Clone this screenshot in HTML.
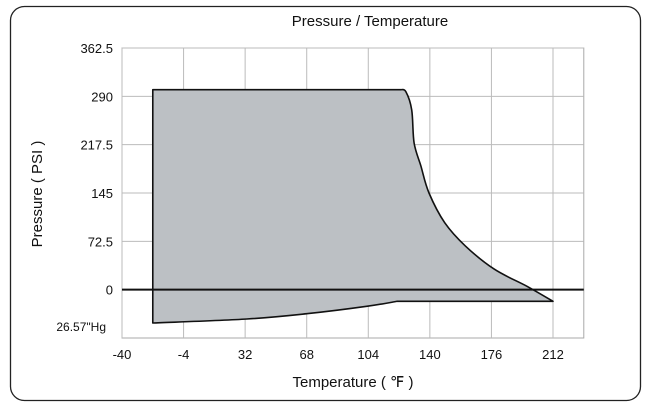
<!DOCTYPE html>
<html><head><meta charset="utf-8"><style>
body{margin:0;background:#fff;width:646px;height:406px;overflow:hidden}
text{font-family:"Liberation Sans",sans-serif;fill:#111}
</style></head><body>
<svg id="chart" width="646" height="406" viewBox="0 0 646 406">
<rect x="10.5" y="6.5" width="630" height="394" rx="14" fill="#fff" stroke="#222" stroke-width="1.3"/>
<text x="370" y="26" font-size="15" text-anchor="middle">Pressure / Temperature</text>
<text transform="translate(42,194) rotate(-90)" font-size="15" text-anchor="middle">Pressure ( PSI )</text>
<text x="353" y="387" font-size="15" text-anchor="middle">Temperature ( ℉ )</text>
<text x="106" y="331" font-size="12" text-anchor="end">26.57"Hg</text>
<g id="grid"></g><g id="area"></g><g id="axes"></g>
</svg>
<script>
const xTicks=[-40,-4,32,68,104,140,176,212];
const yTicks=[0,72.5,145,217.5,290,362.5];
const envTemps=[-22,-22,123,126,129.4,130.8,134.8,139.5,148.7,160.7,177.6,196.8,212,121,103,68,33,-22];
const envPsi=[-50,300,300,297,269.6,220,185,145,100.5,65.7,30.8,5,-17.4,-17.4,-25,-36,-44,-50];
const ns="http://www.w3.org/2000/svg";
const X=t=>122+(t+40)*(553-122)/252;
const Y=p=>338-(p+72.5)*(338-48)/435;
function mk(tag,parent,attrs){const e=document.createElementNS(ns,tag);for(const k in attrs)e.setAttribute(k,attrs[k]);document.getElementById(parent).appendChild(e);return e;}
const L=X(-40),R=X(230),T=Y(362.5),B=Y(-72.5);
mk('rect','grid',{x:L,y:T,width:R-L,height:B-T,fill:'#fff',stroke:'#aaa'});
xTicks.forEach(t=>{
 const l=mk('line','grid',{x1:X(t),x2:X(t),y1:T,y2:B,stroke:'#bbb'});
 
 
 const s=mk('text','axes',{x:X(t),y:B+21,'font-size':13,'text-anchor':'middle'});
 s.textContent=t;
 
 
});
yTicks.forEach(p=>{
 const l=mk('line','grid',{x1:L,x2:R,y1:Y(p),y2:Y(p),stroke:'#bbb'});
 
 
 const s=mk('text','axes',{x:113,y:Y(p)+5,'font-size':13,'text-anchor':'end'});
 s.textContent=p;
 
 
});
const P=envTemps.map((t,i)=>[X(t),Y(envPsi[i])]);
// straight segments at 0-1,1-2, smooth 2..12, straight 12-13, smooth 13..17
function smooth(a,b){let d='';for(let i=a;i<b;i++){const p0=P[Math.max(i-1,a)],p1=P[i],p2=P[i+1],p3=P[Math.min(i+2,b)];
 const c1=[p1[0]+(p2[0]-p0[0])/6,p1[1]+(p2[1]-p0[1])/6],c2=[p2[0]-(p3[0]-p1[0])/6,p2[1]-(p3[1]-p1[1])/6];
 d+=` C${c1[0].toFixed(1)},${c1[1].toFixed(1)} ${c2[0].toFixed(1)},${c2[1].toFixed(1)} ${p2[0].toFixed(1)},${p2[1].toFixed(1)}`;}return d;}
let d=`M${P[0][0]},${P[0][1]} L${P[1][0]},${P[1][1]} L${P[2][0]},${P[2][1]}`+smooth(2,12)+` L${P[13][0]},${P[13][1]}`+smooth(13,17)+' Z';
const poly=mk('path','area',{d:d,fill:'#bcc0c4',stroke:'#111','stroke-width':1.6,'stroke-linejoin':'round'});


const z=mk('line','axes',{x1:L,x2:R,y1:Y(0),y2:Y(0),stroke:'#111','stroke-width':2});


</script>
</body></html>
